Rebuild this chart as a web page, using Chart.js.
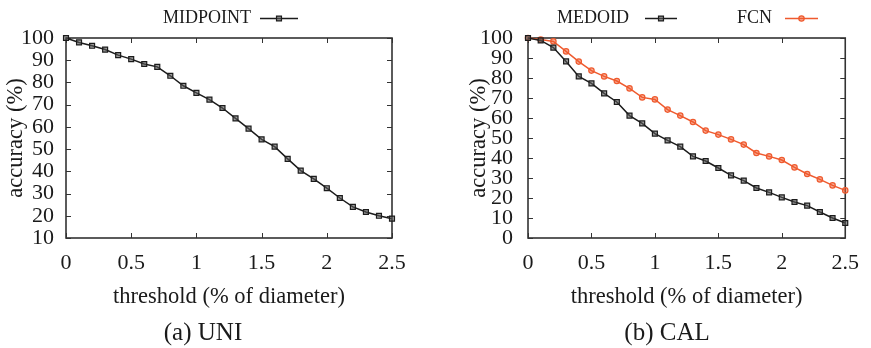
<!DOCTYPE html>
<html>
<head>
<meta charset="utf-8">
<script src="https://cdn.jsdelivr.net/npm/chart.js@4/dist/chart.umd.min.js"></script>
<style>
  html, body { margin: 0; padding: 0; background: #fff; }
  #wrap { position: relative; width: 871px; height: 348px; }
  .pane { position: absolute; top: 0; height: 348px; }
  #uni { left: 0; width: 435px; }
  #cal { left: 435px; width: 436px; }
</style>
</head>
<body>
<div id="wrap">
  <div class="pane" id="uni"><canvas id="chartUni"></canvas></div>
  <div class="pane" id="cal"><canvas id="chartCal"></canvas></div>
</div>
<script>
// threshold values (% of diameter) shared by every series
const thresholds = [0, 0.1, 0.2, 0.3, 0.4, 0.5, 0.6, 0.7, 0.8, 0.9, 1.0, 1.1, 1.2,
    1.3, 1.4, 1.5, 1.6, 1.7, 1.8, 1.9, 2.0, 2.1, 2.2, 2.3, 2.4, 2.5];

// (a) UNI
const midpoint = [100, 98, 96.5, 94.8, 92.3, 90.5, 88.3, 87, 83, 78.5, 75.3, 72.3, 68.5,
    63.8, 59.2, 54.4, 51.1, 45.6, 40.3, 36.6, 32.4, 28, 24, 21.7, 20, 18.7];

// (b) CAL
const medoid = [100, 98.8, 95.2, 88.3, 80.8, 77.3, 72.3, 68, 61.2, 57.3, 52.2, 48.8, 45.7,
    40.8, 38.5, 35, 31.3, 28.7, 25, 22.8, 20.3, 18, 16.2, 13, 10, 7.5];
const fcn = [100, 99.2, 98.3, 93.3, 88.2, 83.7, 80.8, 78.5, 74.8, 70.3, 69.3, 64.2, 61.2,
    58, 53.7, 51.7, 49.3, 46.7, 42.5, 40.8, 39, 35.3, 32, 29.3, 26.3, 23.8];

const xTicks = [0, 0.5, 1, 1.5, 2, 2.5];
const xTickLabels = ["0", "0.5", "1", "1.5", "2", "2.5"];

const FONT = "'Liberation Serif', 'Times New Roman', serif";
const BLACK = "#1c1c1c";
const ORANGE = "#ef5a2e";

const toPoints = (values = []) => values.map((v, i) => ({ x: thresholds[i], y: v }));

const blackSeries = (label, values) => ({
    label,
    data: toPoints(values),
    borderColor: BLACK,
    borderWidth: 1.5,
    pointStyle: "rect",
    pointRadius: 3.5,
    pointBorderWidth: 1.2,
    pointBackgroundColor: "rgba(90,90,90,0.6)",
    pointBorderColor: BLACK,
    clip: false
});

const orangeSeries = (label, values) => ({
    label,
    data: toPoints(values),
    borderColor: ORANGE,
    borderWidth: 1.5,
    pointStyle: "circle",
    pointRadius: 2.7,
    pointBorderWidth: 1.2,
    pointBackgroundColor: "rgba(239,90,46,0.5)",
    pointBorderColor: ORANGE,
    clip: false
});

// box round the plot and gnuplot-like inward ticks on all four sides
const framePlugin = {
    id: "frame",
    beforeDatasetsDraw(chart) {
        const { ctx, chartArea: a, scales } = chart;
        const len = 5;
        ctx.save();
        ctx.strokeStyle = "#333";
        ctx.lineWidth = 1;
        ctx.beginPath();
        scales.x.ticks.forEach(t => {
            const px = Math.round(scales.x.getPixelForValue(t.value)) + 0.5;
            ctx.moveTo(px, a.bottom); ctx.lineTo(px, a.bottom - len);
            ctx.moveTo(px, a.top); ctx.lineTo(px, a.top + len);
        });
        scales.y.ticks.forEach(t => {
            const py = Math.round(scales.y.getPixelForValue(t.value)) + 0.5;
            ctx.moveTo(a.left, py); ctx.lineTo(a.left + len, py);
            ctx.moveTo(a.right, py); ctx.lineTo(a.right - len, py);
        });
        ctx.stroke();
        ctx.lineWidth = 1.6;
        ctx.strokeRect(a.left, a.top, a.right - a.left, a.bottom - a.top);
        ctx.restore();
    },
    afterDraw(chart, args, opts) {
        const { ctx } = chart;
        ctx.save();
        ctx.fillStyle = "#1a1a1a";
        ctx.textBaseline = "middle";
        ctx.font = "18px " + FONT;
        (opts.legend || []).forEach(item => {
            const ds = chart.data.datasets[item.index];
            ctx.textAlign = "left";
            ctx.fillStyle = "#1a1a1a";
            ctx.fillText(ds.label, item.textX, 18.5);
            ctx.strokeStyle = ds.borderColor;
            ctx.lineWidth = ds.borderWidth;
            ctx.beginPath();
            ctx.moveTo(item.lineFrom, 18.5);
            ctx.lineTo(item.lineTo, 18.5);
            ctx.stroke();
            ctx.lineWidth = ds.pointBorderWidth;
            ctx.fillStyle = ds.pointBackgroundColor;
            Chart.helpers.drawPoint(ctx, {
                pointStyle: ds.pointStyle,
                radius: ds.pointRadius,
                borderWidth: ds.pointBorderWidth,
                rotation: 0
            }, (item.lineFrom + item.lineTo) / 2, 18.5);
        });
        if (opts.caption) {
            ctx.font = "25px " + FONT;
            ctx.fillStyle = "#1a1a1a";
            ctx.textAlign = "center";
            ctx.fillText(opts.caption.text, opts.caption.x, 333);
        }
        ctx.restore();
    }
};

const makeChart = (id, datasets, yMin, yTitlePad, yTickPad, plotLeft, plotRight, width, extra) => {
    const ctx = document.querySelector(id);
    return new Chart(ctx, {
        type: "line",
        data: { datasets },
        options: {
            responsive: true,
            maintainAspectRatio: false,
            animation: false,
            events: [],
            layout: { padding: { left: 0, right: width - plotRight, top: 38, bottom: 0 } },
            scales: {
                x: {
                    type: "linear",
                    min: 0,
                    max: 2.5,
                    afterBuildTicks: scale => {
                        scale.ticks = xTicks.map(value => ({ value }));
                    },
                    afterFit: scale => { scale.height = 110; },
                    grid: { display: false, drawTicks: false },
                    border: { display: false },
                    ticks: {
                        autoSkip: false,
                        color: "#1a1a1a",
                        padding: 12,
                        maxRotation: 0,
                        callback: (value, index) => xTickLabels[index],
                        font: { family: FONT, size: 22 }
                    },
                    title: {
                        display: true,
                        text: "threshold (% of diameter)",
                        color: "#1a1a1a",
                        padding: { top: 0, bottom: 37.8 },
                        font: { family: FONT, size: 22.5, lineHeight: 1.2 }
                    }
                },
                y: {
                    min: yMin,
                    max: 100,
                    afterFit: scale => { scale.width = plotLeft; },
                    grid: { display: false, drawTicks: false },
                    border: { display: false },
                    ticks: {
                        autoSkip: false,
                        stepSize: 10,
                        color: "#1a1a1a",
                        padding: yTickPad,
                        font: { family: FONT, size: 22, lineHeight: 1 }
                    },
                    title: {
                        display: true,
                        text: "accuracy (%)",
                        color: "#1a1a1a",
                        padding: { top: yTitlePad, bottom: 0 },
                        font: { family: FONT, size: 22.5, lineHeight: 1.2 }
                    }
                }
            },
            plugins: {
                legend: { display: false },
                tooltip: { enabled: false },
                frame: extra
            }
        },
        plugins: [framePlugin]
    });
};

makeChart("#chartUni", [blackSeries("MIDPOINT", midpoint)], 10, 2.6, 12, 66, 392, 435, {
    legend: [{ index: 0, textX: 163, lineFrom: 260, lineTo: 298 }],
    caption: { text: "(a) UNI", x: 203 }
});

makeChart("#chartCal", [blackSeries("MEDOID", medoid), orangeSeries("FCN", fcn)], 0, 30.6, 15, 93, 418.5, 436, {
    legend: [
        { index: 0, textX: 122, lineFrom: 210, lineTo: 242 },
        { index: 1, textX: 302, lineFrom: 350, lineTo: 383 }
    ],
    caption: { text: "(b) CAL", x: 232 }
});
</script>
</body>
</html>
